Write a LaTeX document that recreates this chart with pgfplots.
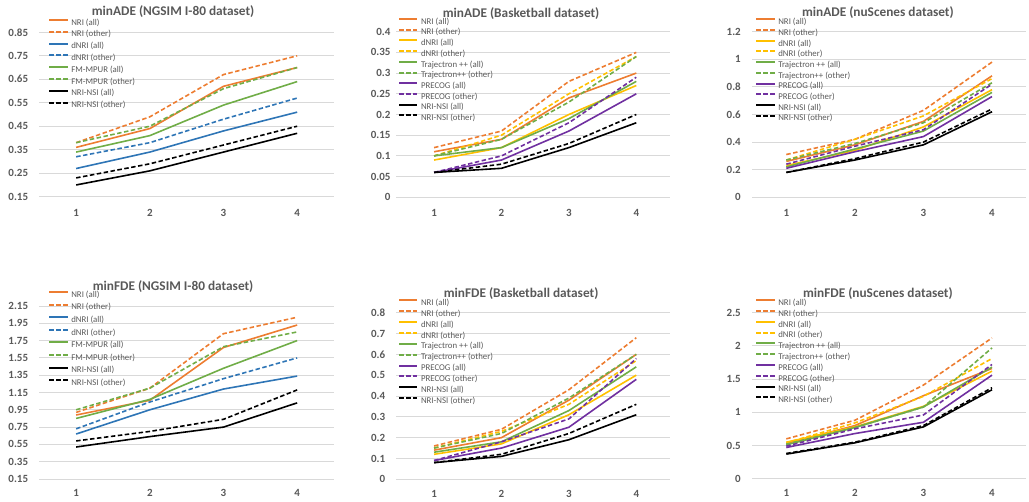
\documentclass[border=0pt]{standalone}
\usepackage{pgfplots}
\usepackage{pgfplotstable}
\pgfplotsset{compat=1.18}
\usepackage{fontspec}
\setmainfont{Carlito}
\definecolor{cgray}{HTML}{595959}
\definecolor{cgrid}{HTML}{D9D9D9}
\definecolor{corange}{HTML}{ED7D31}
\definecolor{cblue}{HTML}{2E75B6}
\definecolor{cgold}{HTML}{FFC000}
\definecolor{cgreen}{HTML}{70AD47}
\definecolor{cpurple}{HTML}{7030A0}

\pgfplotstableread{
x nriA nriO dA dO fA fO sA sO
1 0.36 0.38 0.27 0.32 0.34 0.38 0.20 0.23
2 0.44 0.49 0.34 0.38 0.41 0.45 0.26 0.29
3 0.62 0.67 0.43 0.48 0.54 0.61 0.34 0.37
4 0.70 0.75 0.51 0.57 0.64 0.70 0.42 0.45
}\tA
\pgfplotstableread{
x nriA nriO dA dO tA tO pA pO sA sO
1 0.11 0.12 0.09 0.10 0.10 0.10 0.06 0.06 0.06 0.06
2 0.14 0.16 0.12 0.15 0.12 0.14 0.09 0.10 0.07 0.08
3 0.24 0.28 0.20 0.25 0.19 0.23 0.16 0.18 0.12 0.13
4 0.30 0.35 0.27 0.34 0.28 0.34 0.25 0.29 0.18 0.20
}\tB
\pgfplotstableread{
x nriA nriO dA dO tA tO pA pO sA sO
1 0.26 0.31 0.23 0.27 0.22 0.27 0.21 0.24 0.18 0.18
2 0.38 0.42 0.34 0.42 0.35 0.39 0.33 0.37 0.27 0.28
3 0.55 0.63 0.51 0.59 0.48 0.54 0.44 0.49 0.38 0.40
4 0.88 0.98 0.78 0.86 0.76 0.83 0.73 0.82 0.62 0.64
}\tC
\pgfplotstableread{
x nriA nriO dA dO fA fO sA sO
1 0.89 0.92 0.67 0.73 0.85 0.95 0.52 0.59
2 1.06 1.20 0.95 1.04 1.07 1.20 0.64 0.70
3 1.67 1.83 1.19 1.31 1.43 1.68 0.75 0.84
4 1.93 2.02 1.34 1.55 1.75 1.85 1.03 1.18
}\tD
\pgfplotstableread{
x nriA nriO dA dO tA tO pA pO sA sO
1 0.14 0.16 0.12 0.15 0.13 0.15 0.09 0.09 0.08 0.08
2 0.20 0.24 0.17 0.23 0.18 0.22 0.15 0.18 0.11 0.12
3 0.38 0.43 0.31 0.36 0.33 0.39 0.25 0.29 0.19 0.22
4 0.60 0.68 0.50 0.57 0.54 0.60 0.48 0.58 0.31 0.36
}\tE
\pgfplotstableread{
x nriA nriO dA dO tA tO pA pO sA sO
1 0.53 0.60 0.55 0.54 0.51 0.52 0.47 0.49 0.37 0.38
2 0.80 0.88 0.78 0.84 0.77 0.77 0.68 0.75 0.54 0.55
3 1.25 1.41 1.09 1.24 1.08 1.08 0.85 0.96 0.78 0.80
4 1.66 2.12 1.62 1.81 1.68 1.97 1.56 1.72 1.34 1.37
}\tF

\tikzset{
  sol/.style={line width=1.6bp, solid},
  dsh/.style={line width=1.6bp, dash pattern=on 4.5bp off 2.5bp},
}
\newcommand\legfont{\fontsize{8.8bp}{10bp}\selectfont}
\newcommand\legent[1]{\addlegendentry{\legfont #1}}
\pgfplotsset{
  panel/.style={
    scale only axis,
    anchor=south west,
    xmin=0.5, xmax=4.5,
    xtick={1,2,3,4}, xticklabels={1,2,3,4},
    axis line style={draw=none},
    major tick length=0pt,
    ymajorgrids,
    grid style={draw=cgrid, line width=0.9bp},
    /pgf/number format/.cd, fixed, precision=2, assume math mode=true, /pgfplots/.cd,
    yticklabel style={anchor=east, inner sep=0pt, font=\fontsize{11bp}{13bp}\selectfont\bfseries, text=cgray},
    xticklabel style={anchor=center, inner sep=0pt, font=\fontsize{11bp}{13bp}\selectfont\bfseries, text=cgray},
    title style={anchor=center, yshift=-6pt, inner sep=0pt, font=\fontsize{13.3bp}{15bp}\selectfont\bfseries, text=cgray},
    legend cell align=left,
    legend image code/.code={\draw[##1, line width=2bp] (0bp,2.9bp) -- (18.4bp,2.9bp);},
    legend style={draw=none, fill=none, anchor=north west, inner sep=0pt, outer sep=0pt,
      column sep=2.6bp, font=\legfont,
      nodes={inner sep=0pt, text height=6.5bp, text depth=1.8bp, font=\legfont, text=cgray}},
  },
}

\begin{document}
\begin{tikzpicture}
\useasboundingbox (0,0) rectangle (1029bp,502bp);

% Panel 1
\begin{axis}[panel, at={(39.3bp,305.3bp)}, width=294.7bp, height=164.4bp,
  ymin=0.15, ymax=0.85, ytick={0.15,0.25,...,0.86},
  yticklabel style={xshift=-11bp}, xticklabel style={yshift=-16bp},
  title={minADE (NGSIM I-80 dataset)}, title style={at={(axis description cs:0.454,1.125)}},
  legend style={at={(axis description cs:0.0305,1.083)}, row sep=3.5bp}]
\addplot[sol, corange] table[x=x,y=nriA]{\tA}; \legent{NRI (all)}
\addplot[dsh, corange] table[x=x,y=nriO]{\tA}; \legent{NRI (other)}
\addplot[sol, cblue] table[x=x,y=dA]{\tA}; \legent{dNRI (all)}
\addplot[dsh, cblue] table[x=x,y=dO]{\tA}; \legent{dNRI (other)}
\addplot[sol, cgreen] table[x=x,y=fA]{\tA}; \legent{FM-MPUR (all)}
\addplot[dsh, cgreen] table[x=x,y=fO]{\tA}; \legent{FM-MPUR (other)}
\addplot[sol, black] table[x=x,y=sA]{\tA}; \legent{NRI-NSI (all)}
\addplot[dsh, black] table[x=x,y=sO]{\tA}; \legent{NRI-NSI (other)}
\end{axis}

% Panel 2
\begin{axis}[panel, at={(396.3bp,304.7bp)}, width=273.7bp, height=165.6bp, xmin=0.44,
  ymin=0, ymax=0.4, ytick={0,0.05,...,0.41},
  yticklabel style={xshift=-5.6bp}, xticklabel style={yshift=-16bp},
  title={minADE (Basketball dataset)}, title style={at={(axis description cs:0.456,1.111)}},
  legend style={at={(axis description cs:0.0062,1.084)}, row sep=2.4bp}]
\addplot[sol, corange] table[x=x,y=nriA]{\tB}; \legent{NRI (all)}
\addplot[dsh, corange] table[x=x,y=nriO]{\tB}; \legent{NRI (other)}
\addplot[sol, cgold] table[x=x,y=dA]{\tB}; \legent{dNRI (all)}
\addplot[dsh, cgold] table[x=x,y=dO]{\tB}; \legent{dNRI (other)}
\addplot[sol, cgreen] table[x=x,y=tA]{\tB}; \legent{Trajectron ++ (all)}
\addplot[dsh, cgreen] table[x=x,y=tO]{\tB}; \legent{Trajectron++ (other)}
\addplot[sol, cpurple] table[x=x,y=pA]{\tB}; \legent{PRECOG (all)}
\addplot[dsh, cpurple] table[x=x,y=pO]{\tB}; \legent{PRECOG (other)}
\addplot[sol, black] table[x=x,y=sA]{\tB}; \legent{NRI-NSI (all)}
\addplot[dsh, black] table[x=x,y=sO]{\tB}; \legent{NRI-NSI (other)}
\end{axis}

% Panel 3
\begin{axis}[panel, at={(752bp,304.7bp)}, width=274.3bp, height=165.6bp,
  ymin=0, ymax=1.2, ytick={0,0.2,...,1.21},
  yticklabel style={xshift=-11bp}, xticklabel style={yshift=-16bp},
  title={minADE (nuScenes dataset)}, title style={at={(axis description cs:0.459,1.113)}},
  legend style={at={(axis description cs:0.012,1.082)}, row sep=2.4bp}]
\addplot[sol, corange] table[x=x,y=nriA]{\tC}; \legent{NRI (all)}
\addplot[dsh, corange] table[x=x,y=nriO]{\tC}; \legent{NRI (other)}
\addplot[sol, cgold] table[x=x,y=dA]{\tC}; \legent{dNRI (all)}
\addplot[dsh, cgold] table[x=x,y=dO]{\tC}; \legent{dNRI (other)}
\addplot[sol, cgreen] table[x=x,y=tA]{\tC}; \legent{Trajectron ++ (all)}
\addplot[dsh, cgreen] table[x=x,y=tO]{\tC}; \legent{Trajectron++ (other)}
\addplot[sol, cpurple] table[x=x,y=pA]{\tC}; \legent{PRECOG (all)}
\addplot[dsh, cpurple] table[x=x,y=pO]{\tC}; \legent{PRECOG (other)}
\addplot[sol, black] table[x=x,y=sA]{\tC}; \legent{NRI-NSI (all)}
\addplot[dsh, black] table[x=x,y=sO]{\tC}; \legent{NRI-NSI (other)}
\end{axis}

% Panel 4
\begin{axis}[panel, at={(39.3bp,23bp)}, width=294.7bp, height=173bp,
  ymin=0.15, ymax=2.15, ytick={0.15,0.35,...,2.16},
  yticklabel style={xshift=-11bp}, xticklabel style={yshift=-14bp},
  title={minFDE (NGSIM I-80 dataset)}, title style={at={(axis description cs:0.454,1.110)}},
  legend style={at={(axis description cs:0.0305,1.088)}, row sep=4.3bp}]
\addplot[sol, corange] table[x=x,y=nriA]{\tD}; \legent{NRI (all)}
\addplot[dsh, corange] table[x=x,y=nriO]{\tD}; \legent{NRI (other)}
\addplot[sol, cblue] table[x=x,y=dA]{\tD}; \legent{dNRI (all)}
\addplot[dsh, cblue] table[x=x,y=dO]{\tD}; \legent{dNRI (other)}
\addplot[sol, cgreen] table[x=x,y=fA]{\tD}; \legent{FM-MPUR (all)}
\addplot[dsh, cgreen] table[x=x,y=fO]{\tD}; \legent{FM-MPUR (other)}
\addplot[sol, black] table[x=x,y=sA]{\tD}; \legent{NRI-NSI (all)}
\addplot[dsh, black] table[x=x,y=sO]{\tD}; \legent{NRI-NSI (other)}
\end{axis}

% Panel 5
\begin{axis}[panel, at={(396.3bp,22.7bp)}, width=273.7bp, height=166.6bp, xmin=0.44,
  ymin=0, ymax=0.8, ytick={0,0.1,...,0.81},
  yticklabel style={xshift=-11bp}, xticklabel style={yshift=-14.5bp},
  title={minFDE (Basketball dataset)}, title style={at={(axis description cs:0.456,1.114)}},
  legend style={at={(axis description cs:0.0062,1.083)}, row sep=2.6bp}]
\addplot[sol, corange] table[x=x,y=nriA]{\tE}; \legent{NRI (all)}
\addplot[dsh, corange] table[x=x,y=nriO]{\tE}; \legent{NRI (other)}
\addplot[sol, cgold] table[x=x,y=dA]{\tE}; \legent{dNRI (all)}
\addplot[dsh, cgold] table[x=x,y=dO]{\tE}; \legent{dNRI (other)}
\addplot[sol, cgreen] table[x=x,y=tA]{\tE}; \legent{Trajectron ++ (all)}
\addplot[dsh, cgreen] table[x=x,y=tO]{\tE}; \legent{Trajectron++ (other)}
\addplot[sol, cpurple] table[x=x,y=pA]{\tE}; \legent{PRECOG (all)}
\addplot[dsh, cpurple] table[x=x,y=pO]{\tE}; \legent{PRECOG (other)}
\addplot[sol, black] table[x=x,y=sA]{\tE}; \legent{NRI-NSI (all)}
\addplot[dsh, black] table[x=x,y=sO]{\tE}; \legent{NRI-NSI (other)}
\end{axis}

% Panel 6
\begin{axis}[panel, at={(752bp,23.3bp)}, width=274.3bp, height=166bp,
  ymin=0, ymax=2.5, ytick={0,0.5,...,2.51},
  yticklabel style={xshift=-11bp}, xticklabel style={yshift=-14.5bp},
  title={minFDE (nuScenes dataset)}, title style={at={(axis description cs:0.459,1.114)}},
  legend style={at={(axis description cs:0.012,1.083)}, row sep=2.5bp}]
\addplot[sol, corange] table[x=x,y=nriA]{\tF}; \legent{NRI (all)}
\addplot[dsh, corange] table[x=x,y=nriO]{\tF}; \legent{NRI (other)}
\addplot[sol, cgold] table[x=x,y=dA]{\tF}; \legent{dNRI (all)}
\addplot[dsh, cgold] table[x=x,y=dO]{\tF}; \legent{dNRI (other)}
\addplot[sol, cgreen] table[x=x,y=tA]{\tF}; \legent{Trajectron ++ (all)}
\addplot[dsh, cgreen] table[x=x,y=tO]{\tF}; \legent{Trajectron++ (other)}
\addplot[sol, cpurple] table[x=x,y=pA]{\tF}; \legent{PRECOG (all)}
\addplot[dsh, cpurple] table[x=x,y=pO]{\tF}; \legent{PRECOG (other)}
\addplot[sol, black] table[x=x,y=sA]{\tF}; \legent{NRI-NSI (all)}
\addplot[dsh, black] table[x=x,y=sO]{\tF}; \legent{NRI-NSI (other)}
\end{axis}
\end{tikzpicture}
\end{document}
